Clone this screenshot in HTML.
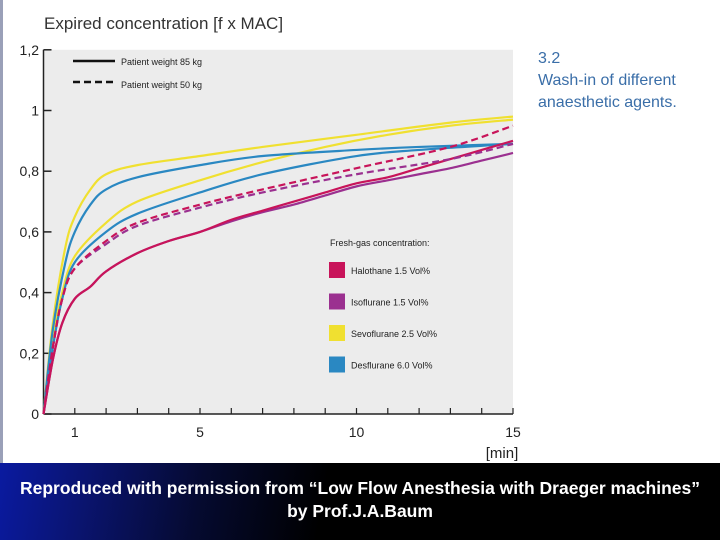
<!DOCTYPE html>
<html><head><meta charset="utf-8"><style>
html,body{margin:0;padding:0;background:#fff;}
#wrap{position:relative;width:720px;height:540px;overflow:hidden;background:#fff;font-family:"Liberation Sans",sans-serif;}
#leftbar{position:absolute;left:0;top:0;width:3px;height:463px;background:#9aa0b8;}
#footer{position:absolute;left:0;top:463px;width:720px;height:77px;background:linear-gradient(100deg,#0a1aa0 0%,#0a1470 12%,#050a30 28%,#000 45%);}
#footer p{margin:0;position:absolute;left:0;width:720px;text-align:center;color:#fff;font-weight:bold;font-size:17.5px;}
</style></head><body>
<div id="wrap">
<div id="leftbar"></div>
<svg id="chart" width="720" height="463" style="position:absolute;left:0;top:0"></svg>
<div id="footer">
<p style="top:15px">Reproduced with permission from “Low Flow Anesthesia with Draeger machines”</p>
<p style="top:38px">by Prof.J.A.Baum</p>
</div>
</div>
<script>
const xTicks=[1,5,10,15];
const yTicks=[0,0.2,0.4,0.6,0.8,1,1.2];
const yTickLabels=["0","0,2","0,4","0,6","0,8","1","1,2"];
const halSolidX=[0,0.3,0.6,1,1.5,2,3,4,5,6,7,8,9,10,11,12,13,14,15];
const halSolidY=[0,0.18,0.3,0.38,0.42,0.47,0.53,0.57,0.6,0.64,0.67,0.7,0.73,0.76,0.78,0.81,0.84,0.87,0.9];
const isoSolidX=[0,0.3,0.6,1,1.5,2,3,4,5,6,7,8,9,10,11,12,13,14,15];
const isoSolidY=[0,0.18,0.3,0.38,0.42,0.47,0.53,0.57,0.6,0.635,0.665,0.69,0.72,0.75,0.77,0.79,0.81,0.835,0.86];
const sevoSolidX=[0,0.3,0.7,1,1.5,2,3,5,7,10,13,15];
const sevoSolidY=[0,0.3,0.55,0.65,0.74,0.79,0.82,0.85,0.88,0.92,0.96,0.98];
const desSolidX=[0,0.3,0.7,1,1.5,2,3,5,7,10,12,15];
const desSolidY=[0,0.28,0.5,0.6,0.69,0.74,0.78,0.82,0.85,0.87,0.88,0.89];
const sevoDashX=[0,0.3,0.6,1,2,3,5,7,9,11,13,15];
const sevoDashY=[0,0.25,0.4,0.52,0.63,0.7,0.77,0.83,0.88,0.92,0.95,0.97];
const desDashX=[0,0.3,0.6,1,2,3,5,7,10,12,15];
const desDashY=[0,0.22,0.38,0.5,0.6,0.66,0.73,0.79,0.85,0.87,0.89];
const halDashX=[0,0.3,0.6,1,2,3,5,7,10,13,15];
const halDashY=[0,0.22,0.38,0.48,0.57,0.63,0.69,0.74,0.81,0.88,0.95];
const isoDashX=[0,0.3,0.6,1,2,3,5,7,10,13,15];
const isoDashY=[0,0.22,0.38,0.48,0.56,0.62,0.68,0.73,0.79,0.84,0.89];
const legendNames=["Halothane 1.5 Vol%","Isoflurane 1.5 Vol%","Sevoflurane 2.5 Vol%","Desflurane 6.0 Vol%"];

const NS="http://www.w3.org/2000/svg";
const svg=document.getElementById('chart');
const X0=43.5,XS=31.3,Y0=414,YS=303.5;
function sx(v){return X0+v*XS;}
function sy(v){return Y0-v*YS;}
function mk(tag,attrs,parent){const e=document.createElementNS(NS,tag);for(const k in attrs)e.setAttribute(k,attrs[k]);(parent||svg).appendChild(e);return e;}
function txt(s,x,y,size,fill,anchor,weight){const t=mk('text',{x:x,y:y,'font-size':size,fill:fill,'text-anchor':anchor||'start','font-family':'Liberation Sans, sans-serif','font-weight':weight||'normal'});t.textContent=s;return t;}

let e;
e=mk('rect',{x:sx(0),y:sy(1.2),width:sx(15)-sx(0),height:sy(0)-sy(1.2),fill:'#ececec'});


e=txt('Expired concentration [f x MAC]',44,29,17,'#333');


e=mk('line',{x1:sx(0),y1:sy(1.2),x2:sx(0),y2:sy(0),stroke:'#222','stroke-width':1.5});


e=mk('line',{x1:sx(0),y1:sy(0),x2:sx(15),y2:sy(0),stroke:'#222','stroke-width':1.5});


yTicks.forEach((v,i)=>{
  const t=mk('line',{x1:sx(0),y1:sy(v),x2:sx(0)+8,y2:sy(v),stroke:'#222','stroke-width':1.5});
  
  
  const l=txt(yTickLabels[i],39,sy(v)+5,14,'#222','end');
  
  
});
for(let m=1;m<=15;m++){
  const t=mk('line',{x1:sx(m),y1:sy(0),x2:sx(m),y2:sy(0)-6,stroke:'#222','stroke-width':1.2});
  
  
}
xTicks.forEach(v=>{
  const l=txt(String(v),sx(v),437,14,'#222','middle');
  
  
});
e=txt('[min]',502,458,15,'#222','middle');



function line(xs,ys,color,dash,name){
  const p=xs.map((x,i)=>[sx(x),sy(ys[i])]);
  let d='M'+p[0][0]+','+p[0][1];
  for(let i=0;i<p.length-1;i++){
    const p0=p[i-1]||p[i],p1=p[i],p2=p[i+1],p3=p[i+2]||p2;
    const c1=[p1[0]+(p2[0]-p0[0])/6,p1[1]+(p2[1]-p0[1])/6];
    const c2=[p2[0]-(p3[0]-p1[0])/6,p2[1]-(p3[1]-p1[1])/6];
    d+=' C'+c1+' '+c2+' '+p2;
  }
  const a={d:d,fill:'none',stroke:color,'stroke-width':2.2};
  if(dash)a['stroke-dasharray']='7,4';
  const el=mk('path',a);
  
  
}
const C={hal:'#c8145a',iso:'#9b3090',sevo:'#f0e030',des:'#2a88c2'};
line(sevoDashX,sevoDashY,C.sevo,false,'sevoflurane-50kg-line');
line(desDashX,desDashY,C.des,false,'desflurane-50kg-line');
line(sevoSolidX,sevoSolidY,C.sevo,false,'sevoflurane-85kg-line');
line(desSolidX,desSolidY,C.des,false,'desflurane-85kg-line');
line(isoSolidX,isoSolidY,C.iso,false,'isoflurane-85kg-line');
line(halSolidX,halSolidY,C.hal,false,'halothane-85kg-line');
line(isoDashX,isoDashY,C.iso,true,'isoflurane-50kg-line');
line(halDashX,halDashY,C.hal,true,'halothane-50kg-line');

e=mk('line',{x1:73,y1:61,x2:115,y2:61,stroke:'#111','stroke-width':2.5});


e=txt('Patient weight 85 kg',121,65,9,'#222');


e=mk('line',{x1:73,y1:82,x2:115,y2:82,stroke:'#111','stroke-width':2.5,'stroke-dasharray':'7,4'});


e=txt('Patient weight 50 kg',121,88,9,'#222');



e=txt('Fresh-gas concentration:',330,246,9,'#222');


const lc=[C.hal,C.iso,C.sevo,C.des];
legendNames.forEach((n,i)=>{
  const y=262+i*31.5;
  const r=mk('rect',{x:329,y:y,width:16,height:16,fill:lc[i]});
  
  
  const t=txt(n,351,y+12,9,'#222');
  
  
});

[['3.2',63],['Wash-in of different',85],['anaesthetic agents.',107]].forEach(([s,y])=>{
  const t=txt(s,538,y,16,'#3a6ea8');
  
  
});
</script>
</body></html>
